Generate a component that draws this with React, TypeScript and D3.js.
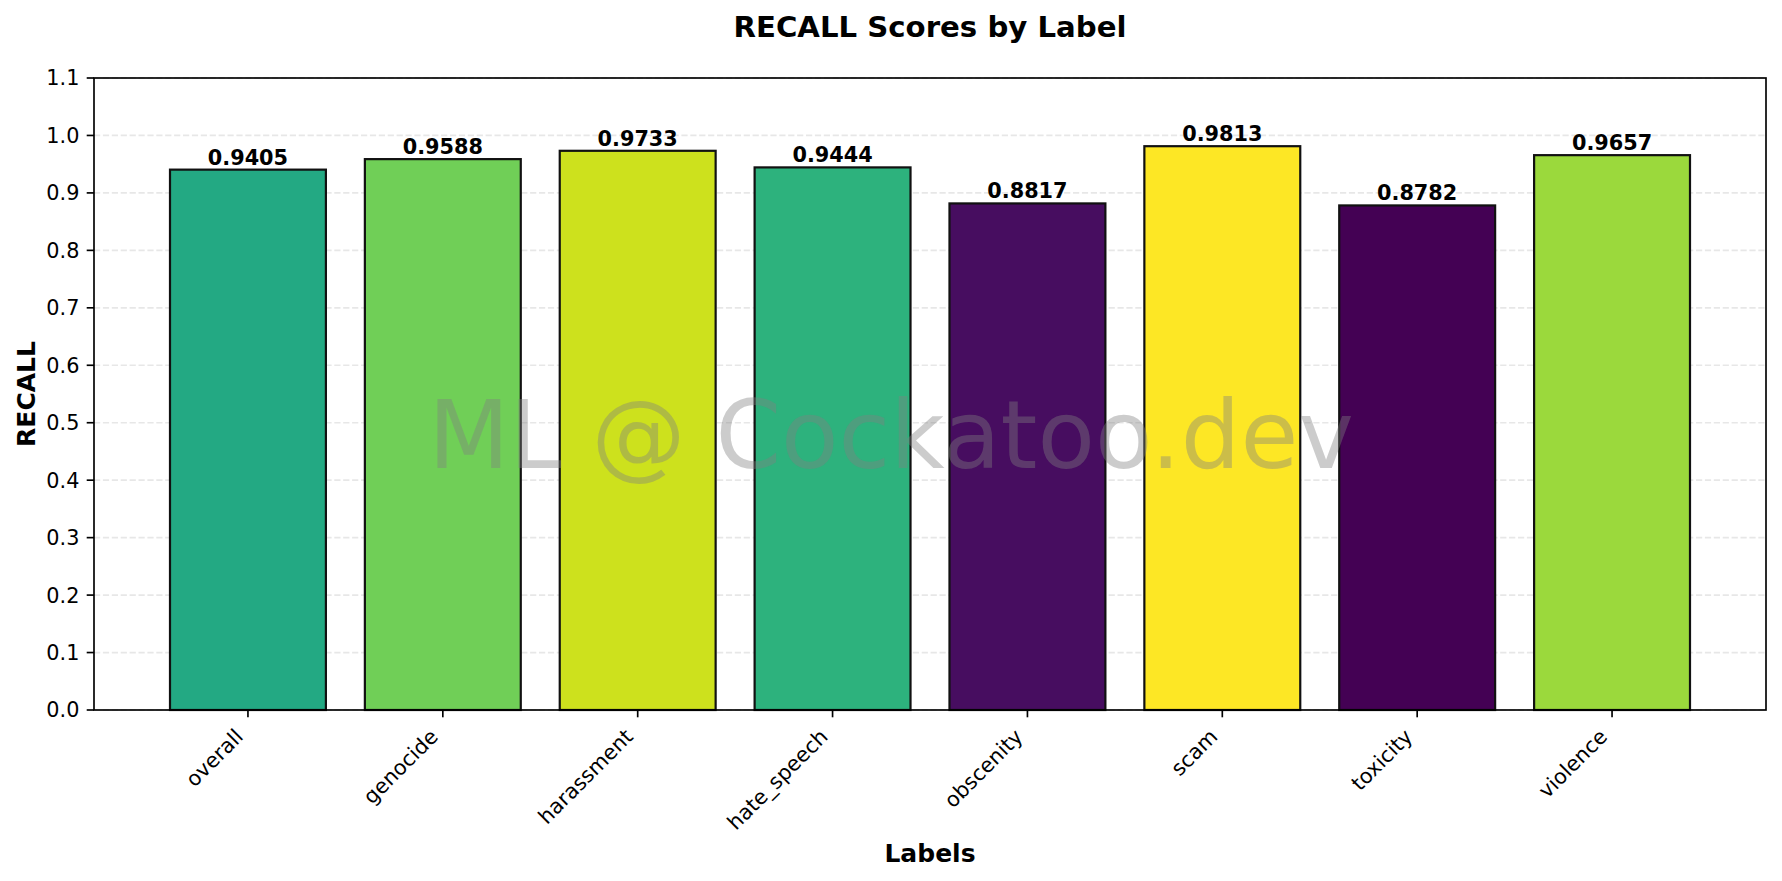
import { useEffect } from 'react';
import * as d3 from 'd3';

// chart values
const labels = ['overall', 'genocide', 'harassment', 'hate_speech', 'obscenity', 'scam', 'toxicity', 'violence'];
const recall = [0.9405, 0.9588, 0.9733, 0.9444, 0.8817, 0.9813, 0.8782, 0.9657];
const yTickValues = [0, 0.1, 0.2, 0.3, 0.4, 0.5, 0.6, 0.7, 0.8, 0.9, 1.0, 1.1];

const W = 1782;
const H = 881;
const plot = { left: 94, right: 1766, top: 78, bottom: 710 };
const FONT = '"DejaVu Sans", sans-serif';

export default function App() {
    useEffect(() => {
        document.body.style.margin = '0';
    }, []);

    const x = d3.scaleBand<string>()
        .domain(labels)
        .range([plot.left, plot.right])
        .paddingInner(0.2)
        .paddingOuter(0.39);

    const y = d3.scaleLinear()
        .domain([0, 1.1])
        .range([plot.bottom, plot.top]);

    // bars coloured by value along viridis, min -> max
    const color = d3.scaleSequential(d3.interpolateViridis)
        .domain([d3.min(recall) as number, d3.max(recall) as number]);

    return (
        <svg width={W} height={H} style={{ display: 'block', background: '#fff' }} fontFamily={FONT}>
            {/* grid */}
            <g>
                {yTickValues.map(t => (
                    <line key={'g' + t} x1={plot.left} x2={plot.right} y1={y(t)} y2={y(t)}
                        stroke="#e7e7e7" strokeWidth={1.67} strokeDasharray="6.2 2.7" />
                ))}
            </g>

            {/* bars */}
            <g>
                {labels.map((l, i) => (
                    <rect key={l} x={x(l)} y={y(recall[i])} width={x.bandwidth()}
                        height={y(0) - y(recall[i])} fill={color(recall[i])}
                        stroke="#111" strokeWidth={2.2} />
                ))}
            </g>

            {/* value labels */}
            <g>
                {labels.map((l, i) => (
                    <text key={'v' + l} x={(x(l) as number) + x.bandwidth() / 2} y={y(recall[i]) - 5}
                        textAnchor="middle" fontSize={20.8} fontWeight="bold" fill="#000">
                        {recall[i].toFixed(4)}
                    </text>
                ))}
            </g>

            {/* spines */}
            <rect x={plot.left} y={plot.top} width={plot.right - plot.left} height={plot.bottom - plot.top}
                fill="none" stroke="#000" strokeWidth={1.67} />

            {/* y axis ticks */}
            <g>
                {yTickValues.map(t => (
                    <g key={'yt' + t}>
                        <line x1={plot.left - 7.3} x2={plot.left} y1={y(t)} y2={y(t)} stroke="#000" strokeWidth={1.67} />
                        <text x={plot.left - 14.6} y={y(t)} dy="0.36em" textAnchor="end" fontSize={20.8} fill="#000">
                            {t.toFixed(1)}
                        </text>
                    </g>
                ))}
            </g>

            {/* x axis ticks */}
            <g>
                {labels.map(l => {
                    const cx = (x(l) as number) + x.bandwidth() / 2;
                    return (
                        <g key={'xt' + l}>
                            <line x1={cx} x2={cx} y1={plot.bottom} y2={plot.bottom + 7.3} stroke="#000" strokeWidth={1.67} />
                            <text transform={`translate(${cx - 3.5},${plot.bottom + 28}) rotate(-45)`}
                                textAnchor="end" fontSize={20.8} fill="#000">
                                {l}
                            </text>
                        </g>
                    );
                })}
            </g>

            {/* titles */}
            <text x={(plot.left + plot.right) / 2} y={37} textAnchor="middle" fontSize={29.2} fontWeight="bold">
                RECALL Scores by Label
            </text>
            <text x={(plot.left + plot.right) / 2} y={862} textAnchor="middle" fontSize={25} fontWeight="bold">
                Labels
            </text>
            <text transform={`translate(35,${(plot.top + plot.bottom) / 2}) rotate(-90)`} textAnchor="middle"
                fontSize={25} fontWeight="bold">
                RECALL
            </text>

            {/* watermark */}
            <text x={W / 2} y={468} textAnchor="middle" fontSize={94} fill="#808080" fillOpacity={0.4}>
                ML @ Cockatoo.dev
            </text>
        </svg>
    );
}
